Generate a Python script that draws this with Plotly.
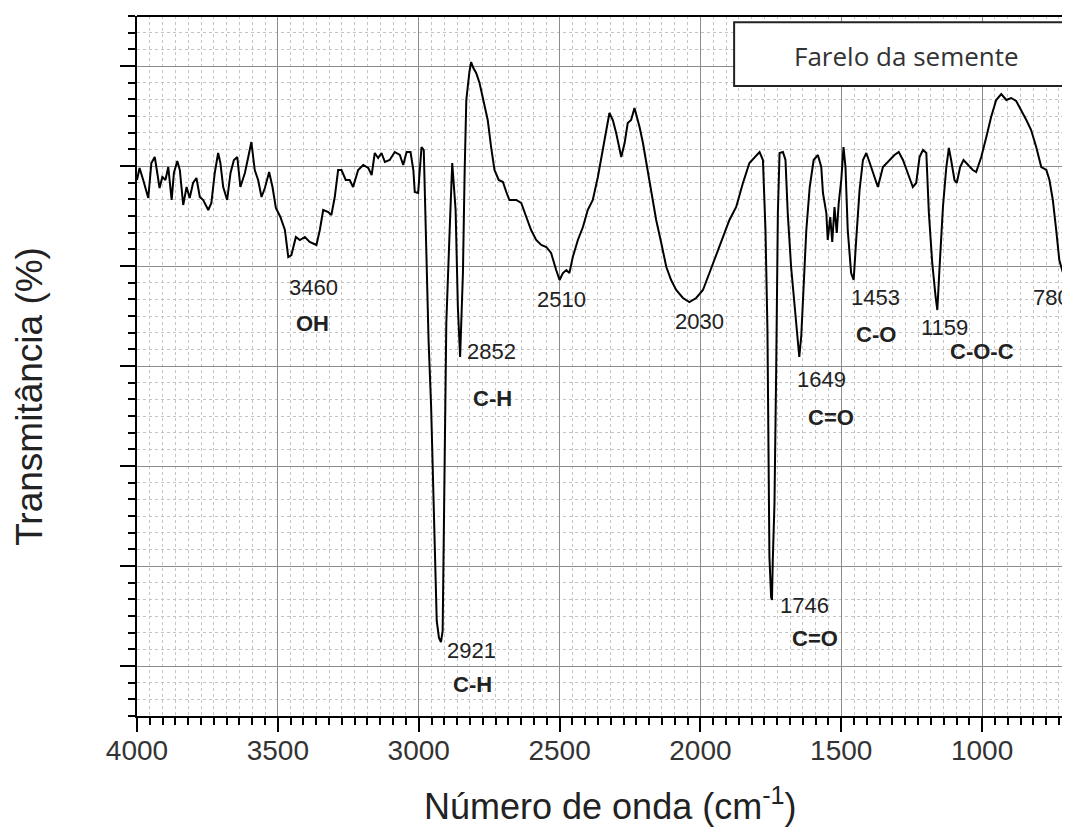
import plotly.graph_objects as go

# Wavenumber (cm-1) and transmittance (arbitrary units, axis has no tick labels)
wavenumber = [
    4000, 3991, 3978, 3960, 3949, 3937, 3928, 3920, 3910, 3899, 3889, 3877, 3869, 3857, 3848,
    3836, 3824, 3813, 3801, 3789, 3777, 3765, 3747, 3736, 3724, 3712, 3704, 3694, 3680, 3668,
    3656, 3644, 3633, 3617, 3605, 3594, 3582, 3570, 3558, 3546, 3531, 3519, 3507, 3491, 3475,
    3463, 3452, 3436, 3422, 3404, 3387, 3363, 3351, 3339, 3321, 3310, 3298, 3286, 3274, 3259,
    3245, 3233, 3215, 3197, 3179, 3167, 3156, 3144, 3132, 3120, 3103, 3085, 3067, 3055, 3043,
    3029, 3019, 3014, 3002, 2996, 2990, 2982, 2975, 2965, 2956, 2948, 2941, 2936, 2928, 2921,
    2915, 2912, 2908, 2905, 2902, 2891, 2881, 2869, 2861, 2853, 2843, 2837, 2831, 2820, 2814,
    2806, 2796, 2784, 2772, 2755, 2743, 2731, 2716, 2701, 2689, 2678, 2654, 2636, 2618, 2601,
    2583, 2565, 2547, 2530, 2512, 2500, 2488, 2476, 2465, 2453, 2435, 2417, 2400, 2382, 2364,
    2352, 2334, 2323, 2311, 2299, 2281, 2269, 2258, 2246, 2234, 2216, 2204, 2190, 2175, 2157,
    2139, 2121, 2104, 2086, 2062, 2039, 2015, 1991, 1968, 1932, 1897, 1873, 1849, 1826, 1808,
    1790, 1778, 1769, 1762, 1760, 1755, 1749, 1746, 1743, 1737, 1731, 1725, 1719, 1707, 1698,
    1690, 1678, 1662, 1651, 1649, 1642, 1636, 1624, 1612, 1598, 1583, 1571, 1565, 1553, 1548,
    1539, 1532, 1524, 1516, 1509, 1500, 1492, 1485, 1477, 1465, 1456, 1447, 1435, 1423, 1411,
    1400, 1388, 1370, 1352, 1329, 1311, 1296, 1281, 1264, 1246, 1234, 1222, 1210, 1198, 1189,
    1177, 1165, 1159, 1151, 1139, 1127, 1118, 1110, 1098, 1090, 1078, 1066, 1051, 1033, 1021,
    1003, 985, 968, 950, 932, 914, 897, 879, 861, 843, 826, 808, 790, 772, 761,
    749, 737, 726, 714, 702, 690,
]
transmittance = [
    5.86, 5.98, 5.86, 5.68, 6.03, 6.09, 5.93, 5.78, 5.89, 5.86, 5.99, 5.66, 5.93, 6.05, 5.96,
    5.61, 5.79, 5.68, 5.83, 5.88, 5.69, 5.66, 5.56, 5.63, 5.93, 6.13, 6.03, 5.79, 5.66, 5.93,
    6.06, 6.09, 5.79, 5.93, 6.09, 6.24, 5.96, 5.86, 5.69, 5.78, 5.94, 5.79, 5.58, 5.49, 5.36,
    5.09, 5.11, 5.29, 5.26, 5.29, 5.24, 5.21, 5.36, 5.56, 5.54, 5.51, 5.69, 5.96, 5.96, 5.86,
    5.86, 5.79, 5.96, 6.01, 5.98, 5.91, 6.13, 6.08, 6.13, 6.04, 6.06, 6.14, 6.11, 6.01, 6.14,
    6.14, 5.96, 5.74, 5.73, 5.93, 6.19, 6.16, 5.29, 4.26, 3.60, 2.80, 2.00, 1.45, 1.28, 1.24,
    1.35, 2.09, 3.20, 4.26, 4.43, 5.29, 6.03, 5.56, 4.59, 4.09, 4.93, 5.93, 6.66, 6.94, 7.04,
    6.98, 6.93, 6.83, 6.68, 6.46, 6.19, 5.96, 5.86, 5.84, 5.74, 5.66, 5.66, 5.63, 5.49, 5.36,
    5.26, 5.21, 5.19, 5.13, 4.96, 4.86, 4.93, 4.96, 4.93, 5.09, 5.26, 5.39, 5.56, 5.66, 5.89,
    6.09, 6.36, 6.53, 6.46, 6.33, 6.09, 6.23, 6.43, 6.46, 6.58, 6.39, 6.23, 5.99, 5.73, 5.46,
    5.23, 4.99, 4.86, 4.76, 4.68, 4.64, 4.68, 4.76, 4.93, 5.19, 5.46, 5.59, 5.83, 6.03, 6.08,
    6.14, 6.06, 5.36, 4.36, 3.33, 2.09, 1.69, 1.66, 2.06, 2.63, 3.96, 5.53, 6.13, 6.14, 6.06,
    5.53, 4.99, 4.53, 4.19, 4.09, 4.30, 4.69, 5.36, 5.79, 6.06, 6.11, 5.99, 5.73, 5.53, 5.26,
    5.49, 5.24, 5.59, 5.33, 5.63, 5.86, 6.19, 5.99, 5.36, 4.93, 4.86, 5.26, 5.76, 6.06, 6.13,
    6.04, 5.93, 5.79, 5.99, 6.06, 6.11, 6.14, 6.06, 5.93, 5.79, 5.83, 6.09, 6.16, 6.13, 5.53,
    5.03, 4.69, 4.56, 4.99, 5.59, 5.99, 6.18, 6.06, 5.86, 5.83, 5.99, 6.06, 6.01, 5.96, 5.94,
    6.09, 6.29, 6.49, 6.66, 6.72, 6.66, 6.68, 6.65, 6.56, 6.46, 6.36, 6.19, 5.99, 5.96, 5.86,
    5.66, 5.36, 5.06, 4.94, 5.06, 5.33,
]

# Peak annotations: text, x position (cm-1), y position, bold
label_text = ["3460", "OH", "2852", "C-H", "2921", "C-H", "2510", "2030", "1746", "C=O",
              "1649", "C=O", "1453", "C-O", "1159", "C-O-C", "780"]
label_x = [3373, 3377, 2742, 2738, 2813, 2809, 2493, 2003, 1630, 1595,
           1570, 1535, 1378, 1375, 1134, 999, 754]
label_y = [4.79, 4.43, 4.15, 3.68, 1.16, 0.82, 4.67, 4.45, 1.61, 1.28,
           3.87, 3.49, 4.69, 4.32, 4.39, 4.15, 4.69]
label_bold = [False, True, False, True, False, True, False, False, False, True,
              False, True, False, True, False, True, False]

legend_name = "Farelo da semente"
x_title = "Número de onda (cm<sup>-1</sup>)"
y_title = "Transmitância (%)"

ARIAL = "Liberation Sans, Arial, sans-serif"

fig = go.Figure()
fig.add_trace(go.Scatter(
    x=wavenumber, y=transmittance, mode="lines",
    line=dict(color="black", width=2), name=legend_name, showlegend=False,
))

for t, xv, yv, b in zip(label_text, label_x, label_y, label_bold):
    fig.add_annotation(
        x=xv, y=yv, xref="x", yref="y", showarrow=False,
        text=f"<b>{t}</b>" if b else t,
        font=dict(family=ARIAL, size=22, color="#222222"),
        xanchor="center", yanchor="middle",
    )

# axis titles
fig.add_annotation(x=0.508, y=-0.161, xref="paper", yref="paper", showarrow=False,
                   text=x_title, font=dict(family=ARIAL, size=36, color="#222222"),
                   xanchor="center", yanchor="bottom")
fig.add_annotation(x=-0.116, y=0.457, xref="paper", yref="paper", showarrow=False,
                   text=y_title, textangle=-90,
                   font=dict(family=ARIAL, size=37, color="#222222"),
                   xanchor="center", yanchor="middle")

# legend box
fig.add_shape(type="rect", xref="paper", yref="paper", x0=0.640, x1=1.05, y0=0.9, y1=0.991,
              line=dict(color="#222222", width=2), fillcolor="white", layer="above")
fig.add_annotation(x=0.825, y=0.943, xref="paper", yref="paper", showarrow=False,
                   text=legend_name, font=dict(family="Open Sans, sans-serif", size=26, color="#333333"),
                   xanchor="center", yanchor="middle")
# top frame line
fig.add_shape(type="line", xref="paper", yref="paper", x0=0, x1=1.05, y0=1, y1=1,
              line=dict(color="black", width=2), layer="above")

# page body has an 8px margin: size the figure so the plot lands where the reference has it
fig.update_layout(
    width=1062, height=824,
    margin=dict(l=129, r=0, t=8, b=116),
    paper_bgcolor="white", plot_bgcolor="white",
    showlegend=False,
)
fig.update_xaxes(
    range=[4000, 688], autorange=False,
    tickmode="linear", tick0=0, dtick=500,
    ticks="outside", ticklen=14, tickwidth=2, tickcolor="black",
    ticklabelstandoff=-6,
    showline=True, linecolor="black", linewidth=2,
    showgrid=True, gridcolor="#8c8c8c", gridwidth=1, zeroline=False,
    tickfont=dict(family=ARIAL, size=28, color="#333333"),
    minor=dict(tickmode="linear", tick0=4000, dtick=500 / 11, ticks="outside", ticklen=7,
               tickwidth=2, tickcolor="black", showgrid=True, gridcolor="#c4c4c4",
               griddash="dot", gridwidth=1),
)
fig.update_yaxes(
    range=[0.5, 7.5], autorange=False,
    tickmode="linear", tick0=0, dtick=1,
    ticks="outside", ticklen=15, tickwidth=2, tickcolor="black",
    showticklabels=False,
    showline=True, linecolor="black", linewidth=2,
    showgrid=True, gridcolor="#8c8c8c", gridwidth=1, zeroline=False,
    minor=dict(tickmode="linear", tick0=0, dtick=1 / 6, ticks="outside", ticklen=7,
               tickwidth=2, tickcolor="black", showgrid=True, gridcolor="#c4c4c4",
               griddash="dot", gridwidth=1),
)

fig.write_html("out.html")
